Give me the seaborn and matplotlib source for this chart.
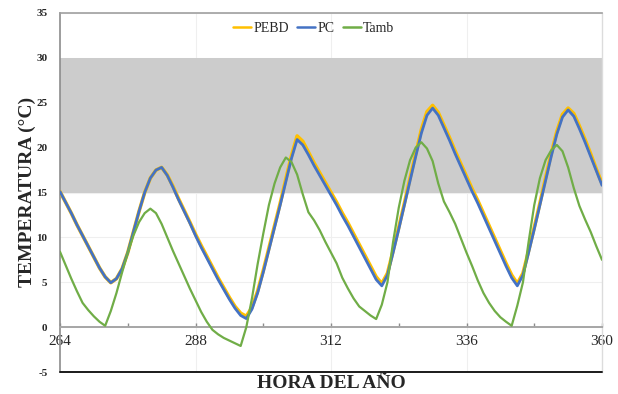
import numpy as np
import pandas as pd
import matplotlib
matplotlib.use("Agg")
import matplotlib.pyplot as plt
import seaborn as sns

# Hourly temperatures, hours 264..360
hours = list(range(264, 361))

pc = [15.1, 13.9, 12.7, 11.4, 10.2, 9.0, 7.8, 6.6, 5.6, 4.95,
      5.4, 6.5, 8.3, 10.6, 12.9, 15.0, 16.6, 17.5, 17.8, 16.9,
      15.6, 14.2, 12.9, 11.6, 10.2, 8.9, 7.7, 6.5, 5.3, 4.2,
      3.1, 2.1, 1.3, 0.95, 2.0, 3.8, 6.1, 8.6, 11.1, 13.6,
      16.2, 18.8, 20.9, 20.3, 19.2, 18.0, 16.9, 15.8, 14.7, 13.6,
      12.4, 11.3, 10.1, 8.9, 7.7, 6.5, 5.3, 4.6, 5.8, 8.3,
      10.9, 13.6, 16.3, 19.0, 21.6, 23.6, 24.4, 23.6, 22.2, 20.8,
      19.3, 17.9, 16.5, 15.1, 13.8, 12.4, 11.0, 9.6, 8.2, 6.8,
      5.5, 4.6, 5.8, 8.3, 10.9, 13.6, 16.3, 19.0, 21.5, 23.4,
      24.2, 23.5, 22.1, 20.6, 19.0, 17.4, 15.8]

pebd = [15.1, 13.9, 12.7, 11.4, 10.2, 9.0, 7.8, 6.6, 5.6, 4.95,
        5.4, 6.5, 8.3, 10.6, 12.9, 15.0, 16.6, 17.5, 17.8, 16.95,
        15.7, 14.3, 13.0, 11.7, 10.35, 9.1, 7.9, 6.7, 5.5, 4.4,
        3.3, 2.3, 1.55, 1.2, 2.2, 4.0, 6.3, 8.8, 11.3, 13.8,
        16.5, 19.1, 21.3, 20.7, 19.5, 18.3, 17.2, 16.1, 15.0, 13.9,
        12.7, 11.6, 10.4, 9.2, 8.0, 6.8, 5.6, 4.85, 6.0, 8.5,
        11.1, 13.8, 16.6, 19.3, 22.0, 24.0, 24.7, 23.9, 22.5, 21.1,
        19.6, 18.2, 16.8, 15.4, 14.1, 12.7, 11.3, 9.9, 8.5, 7.1,
        5.8, 4.85, 6.0, 8.5, 11.1, 13.8, 16.6, 19.3, 21.8, 23.7,
        24.4, 23.8, 22.4, 20.9, 19.3, 17.6, 16.0]

tamb = [8.4, 6.9, 5.4, 4.0, 2.7, 1.9, 1.2, 0.6, 0.15, 1.8,
        3.8, 6.1, 8.3, 10.2, 11.7, 12.7, 13.2, 12.7, 11.5, 10.0,
        8.5, 7.1, 5.7, 4.3, 3.0, 1.7, 0.6, -0.3, -0.8, -1.2,
        -1.5, -1.8, -2.1, 0.0, 3.2, 7.0, 10.4, 13.6, 16.0, 17.8,
        18.9, 18.4, 17.0, 14.8, 12.8, 11.9, 10.8, 9.5, 8.3, 7.1,
        5.5, 4.3, 3.2, 2.3, 1.8, 1.3, 0.9, 2.5, 5.0, 9.5,
        13.3, 16.3, 18.6, 20.0, 20.6, 19.9, 18.5, 16.0, 14.0, 12.8,
        11.5, 9.9, 8.3, 6.8, 5.2, 3.8, 2.7, 1.8, 1.1, 0.6,
        0.15, 2.4, 5.0, 9.5, 13.6, 16.6, 18.6, 19.7, 20.3, 19.6,
        17.8, 15.5, 13.5, 12.0, 10.6, 9.0, 7.5]

series_names = ["PEBD", "PC", "Tamb"]
series_colors = ["#FFC000", "#4472C4", "#70AD47"]
series_widths = [2.6, 2.0, 1.6]

comfort_low, comfort_high = 15, 30
x_ticks = list(range(264, 361, 24))
x_minor = list(range(264, 361, 12))
y_ticks = list(range(-5, 36, 5))

df = pd.DataFrame({"Hora": hours * 3,
                   "Temperatura": pebd + pc + tamb,
                   "Serie": ["PEBD"] * len(hours) + ["PC"] * len(hours) + ["Tamb"] * len(hours)})

sns.set_theme(style="white")
plt.rcParams["font.family"] = ["Liberation Serif", "DejaVu Serif"]

fig = plt.figure(figsize=(6.18, 3.94), dpi=100)
ax = fig.add_axes([60 / 618, 22 / 394, 542 / 618, 359 / 394])

# faint grid
for yv in y_ticks[1:]:
    ax.axhline(yv, color="#efefef", lw=0.8, zorder=0)
for xv in x_ticks[1:-1]:
    ax.axvline(xv, color="#efefef", lw=0.8, zorder=0)

# comfort band
ax.axhspan(comfort_low, comfort_high, color="#cccccc", lw=0, zorder=1)

for name, col, lw in zip(series_names, series_colors, series_widths):
    sns.lineplot(data=df[df["Serie"] == name], x="Hora", y="Temperatura",
                 color=col, lw=lw, label=name, ax=ax, zorder=3,
                 solid_joinstyle="round", solid_capstyle="round")

ax.set_xlim(264, 360)
ax.set_ylim(-5, 35)
ax.set_xticks(x_ticks)
ax.set_xticks(x_minor, minor=True)
ax.set_xticklabels([str(t) for t in x_ticks])
ax.set_yticks(y_ticks)
ax.set_yticklabels([str(t) for t in y_ticks])
ax.set_xlabel("")
ax.set_ylabel("")

for lab in ax.get_xticklabels() + ax.get_yticklabels():
    lab.set_fontweight("bold")
    lab.set_fontsize(8)

ax.tick_params(axis="x", which="both", direction="in", length=3, width=1,
               color="#8c8c8c", pad=6, bottom=True)
ax.tick_params(axis="y", length=0, pad=9)

ax.spines["bottom"].set_position(("data", 0))
ax.spines["bottom"].set_color("#a6a6a6")
ax.spines["bottom"].set_linewidth(1.4)
ax.spines["left"].set_color("#8c8c8c")
ax.spines["left"].set_linewidth(1.2)
ax.spines["top"].set_color("#a0a0a0")
ax.spines["top"].set_linewidth(1.2)
ax.spines["right"].set_color("#dcdcdc")
ax.spines["right"].set_linewidth(1.0)

# lower frame edge
ax.plot([0, 1], [0, 0], transform=ax.transAxes, color="#1a1a1a", lw=1.4,
        clip_on=False, zorder=5)

leg = ax.legend(loc="center", bbox_to_anchor=(0.468, 0.958), ncol=3, frameon=False,
                prop={"size": 10}, handlelength=1.3, handletextpad=0.15,
                columnspacing=0.6, borderpad=0)
for h in leg.get_lines():
    h.set_linewidth(1.8)

fig.text(27 / 618, 1 - 192 / 394, "TEMPERATURA (°C)", rotation=90,
         ha="center", va="center", fontsize=14, fontweight="bold")
fig.text(331 / 618, 1 - 383 / 394, "HORA DEL AÑO", ha="center", va="center",
         fontsize=14, fontweight="bold")

fig.savefig("out.png", dpi=100, facecolor="white")
